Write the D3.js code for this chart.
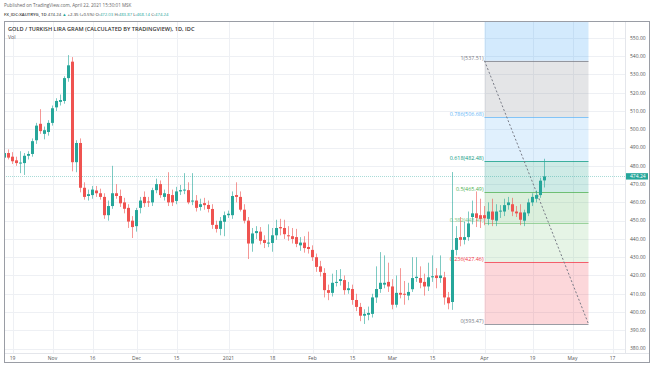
<!DOCTYPE html>
<html><head><meta charset="utf-8">
<script src="https://cdn.jsdelivr.net/npm/d3@7"></script>
<style>
body{margin:0;background:#fff}
svg{display:block}
text{font-family:"Open Sans","Liberation Sans",Arial,sans-serif}
</style>
</head><body><svg id="c" width="654" height="366"></svg>
<script>
// ---- data (daily candles, XAU/TRY gram, from 2020-10-15, weekdays) ----
const firstDate = "2020-10-15";
const lastAxisDate = "2021-05-20";
const opens = [484.5,487,485,483,481.5,481.5,485.5,486.5,494,503,497.5,498.5,503.5,512,515,515.5,528,537,482,492.5,
468,463.5,464,466.5,465,463,453,458,465,463.5,460,457,450,447,457,463,460.5,460,466.7,470,
463,464.6,464,460.8,466,467,466.7,461,461,457.5,459.6,458.6,456.4,447.7,445.5,449.4,453,453,464,463,
456,450,437.5,443.2,444,439.4,437.8,437.8,442,446.5,446,442,441.5,441,436.5,438,435.6,434,430,425,
421.4,412,410.5,416,417,417.5,412,412.6,406.6,402.8,398,398.5,399,408,412.6,415,416.5,414,404,410.5,
410,409,412.5,418.6,418.6,416.5,414,419,420,418.6,419,408,405.5,434,441,439.5,441,452,454,453,
453,451,455,450,455,455,458.5,459,455,454.5,450,454,460,462,464,472.03];
const highs = [488,489,487.5,485,488,487,488,495,503.5,511,501.5,505,513,517,519,529,540.6,539.5,494,495,
471,467,469,469,467.5,465,461,480,470,467,462.5,459,452.5,457,463,466,463,468,473,472,
467,476.5,467,468.5,469.5,476,471,476,464,462,462.5,461,459,450,452,455,455.5,466,471,466,
459,452,446,447,446.5,442,448,446,450.5,451,450.5,447,446,445.5,441,441.5,444,436.5,432,428,
424,415,421,423,423.5,420,416.5,415,410,405,401.5,403,410,425,432.8,431,427,418,420,424,
417,416,430,430,425,421,427,431,424,431,422,411,476.6,447,452,449.5,455,461,466,462,
458,460,462,459,458.5,462,463,462.5,458,459,456,462,465,466.5,473.5,483.87];
const lows = [482,483.5,481,480,476,475,483.5,485,492,497.5,494.5,496.5,502,510,513,514,526,477,476.5,465.5,
461.5,461,462,463,461.5,451,450,456.5,462,457.5,454,446,440.5,444,454,457.5,457.5,458,465,462.5,
461,458,458,459,464,464.5,459,458.5,455,455.5,456,454.5,445.5,443.5,442,441.5,451.5,451,460,455,
448.5,429,433,440,437,435,435.5,433,439.5,442,440,439,437.5,435.5,433.5,432.5,432,428,422,419.5,
408,406.5,408.5,414,414.5,409.5,410,404,400.5,395,393.47,395.5,397,405,410.5,413,411,401.5,402.5,407.5,
404,406.5,411,416.5,413,409,411.5,416.5,413,416,404,401.5,401.2,431,436,437,439,448,446.5,446,
447.5,447.5,447,447,451.5,452.5,456,452.5,452,447.5,447,452.5,458,460,462.5,468.14];
const closes = [487,484.5,482.5,481.5,481.8,485.5,486.5,493.5,502,499,499.5,503.5,511.5,515.5,516,528,535,482,492.5,468,
463,464.5,467,465,463,453,458,465,463.5,459.5,456.5,449.5,446.5,455.8,461,459.6,460,466.7,470,464,
465,460,460,466,466.7,467,460,461,457,459,458.5,456.4,447.7,445.5,449.9,453,453.8,463.5,463,456,
450,437.5,443,444.3,439,437.8,438,442,446,445.8,442.6,441.6,440,437.3,438,435,434.5,430,424.7,422,
412,410.5,416,416.5,418,412,413,406.6,402.8,398,399,399.5,408,412.6,416,416,414,404,410.5,409.5,
409.5,411,418.6,419.3,416,414,419,419.6,418.6,420,408,404.8,434,440.5,439.5,441,448.5,454,451.5,451,
451.3,455,450.5,455,455.5,458.5,460,455,454,450.5,454.5,460,463,464,471.89,474.24];

const priceTicks = [380,390,400,410,420,430,440,450,460,470,480,490,500,510,520,530,540,550];
const timeTickDates = ["2020-10-19","2020-11-02","2020-11-16","2020-12-01","2020-12-15","2021-01-01","2021-01-18",
  "2021-02-01","2021-02-15","2021-03-01","2021-03-15","2021-04-01","2021-04-19","2021-05-03","2021-05-17"];
const timeTickLabels = ["19","Nov","16","Dec","15","2021","18","Feb","15","Mar","15","Apr","19","May","17"];

// Fibonacci retracement drawing
const fibLevels = [0,0.236,0.382,0.5,0.618,0.786,1,1.618];
const fibPrices = [393.47,427.46,448.49,465.49,482.48,506.68,537.51,626.53];
const fibColors = ["#787b86","#f23645","#81c784","#4caf50","#089981","#64b5f6","#787b86","#2196f3"];
const fibStartDate = "2021-04-01";
const fibEndDate = "2021-05-07";

const lastPrice = 474.24;
const headerOHLC = [["O:",472.03],["H:",483.87],["L:",468.14],["C:",474.24]];
const headerChange = "+2.35 (+0.5%)";

// ---- layout ----
const W = 654, H = 366;
const plot = {left:4, right:625, top:21, bottom:353};
const up = "#26a69a", down = "#ef5350";

const parse = d3.timeParse("%Y-%m-%d"), fmt = d3.timeFormat("%Y-%m-%d");
const allDays = d3.timeDay.range(parse(firstDate), d3.timeDay.offset(parse(lastAxisDate),1))
  .filter(d => d.getDay() !== 0 && d.getDay() !== 6).map(fmt);
const candles = opens.map((o,i)=>({date:allDays[i],o,h:highs[i],l:lows[i],c:closes[i]}));

const x = d3.scaleBand().domain(allDays).range([2.5, 2.5 + allDays.length*4]).paddingInner(0.25).paddingOuter(0.125);
const bw = x.bandwidth();
const xc = d => x(d) + bw/2;
const y = d3.scaleLinear().domain([380,550]).range([348.6,37.9]);

const svg = d3.select("#c");
svg.append("rect").attr("width",W).attr("height",H).attr("fill","#fff");
svg.append("defs").append("clipPath").attr("id","clip").append("rect")
  .attr("x",plot.left).attr("y",plot.top).attr("width",plot.right-plot.left).attr("height",plot.bottom-plot.top);

// grid
const grid = svg.append("g").attr("clip-path","url(#clip)");
grid.selectAll("line.h").data(priceTicks).join("line")
  .attr("x1",plot.left).attr("x2",plot.right)
  .attr("y1",d=>Math.round(y(d))+0.5).attr("y2",d=>Math.round(y(d))+0.5)
  .attr("stroke","#eef0f4");
grid.selectAll("line.v").data(timeTickDates).join("line")
  .attr("x1",d=>Math.round(xc(d))+0.5).attr("x2",d=>Math.round(xc(d))+0.5)
  .attr("y1",plot.top).attr("y2",plot.bottom).attr("stroke","#eef0f4");

// fib drawing
const fib = svg.append("g").attr("clip-path","url(#clip)");
const fx1 = xc(fibStartDate), fx2 = xc(fibEndDate);
for (let i=0;i<fibLevels.length-1;i++){
  const yA = y(fibPrices[i+1]), yB = y(fibPrices[i]);
  fib.append("rect").attr("x",fx1).attr("width",fx2-fx1)
    .attr("y",yA).attr("height",yB-yA).attr("fill",fibColors[i+1]).attr("fill-opacity",0.2);
}
fibLevels.forEach((lv,i)=>{
  const yy = Math.round(y(fibPrices[i]))+0.5;
  if (yy < plot.top) return;
  fib.append("line").attr("x1",fx1).attr("x2",fx2).attr("y1",yy).attr("y2",yy)
    .attr("stroke",fibColors[i]).attr("stroke-opacity",0.75).attr("stroke-width",1);
  fib.append("text").attr("x",fx1-1).attr("y",yy-1.6).attr("text-anchor","end")
    .attr("font-size",5.4).attr("fill",fibColors[i])
    .text(`${lv}(${fibPrices[i].toFixed(2)})`);
});
fib.append("line").attr("x1",fx1).attr("y1",y(fibPrices[6])).attr("x2",fx2).attr("y2",y(fibPrices[0]))
  .attr("stroke","#787b86").attr("stroke-width",1).attr("stroke-dasharray","2,2");

// last price line
svg.append("line").attr("clip-path","url(#clip)")
  .attr("x1",plot.left).attr("x2",plot.right)
  .attr("y1",Math.round(y(lastPrice))+0.5).attr("y2",Math.round(y(lastPrice))+0.5)
  .attr("stroke",up).attr("stroke-opacity",0.4).attr("stroke-dasharray","1,1");

// candles
const cg = svg.append("g").attr("clip-path","url(#clip)");
const cs = cg.selectAll("g").data(candles).join("g");
cs.append("line")
  .attr("x1",d=>x(d.date)+1.5).attr("x2",d=>x(d.date)+1.5)
  .attr("y1",d=>y(d.h)).attr("y2",d=>y(d.l))
  .attr("stroke",d=>d.c>=d.o?up:down).attr("stroke-opacity",0.6);
cs.append("rect")
  .attr("x",d=>x(d.date)).attr("width",bw)
  .attr("y",d=>y(Math.max(d.o,d.c)))
  .attr("height",d=>Math.max(1,Math.abs(y(d.o)-y(d.c))))
  .attr("fill",d=>d.c>=d.o?up:down);

// axes
svg.append("line").attr("x1",plot.right+0.5).attr("x2",plot.right+0.5).attr("y1",plot.top).attr("y2",plot.bottom)
  .attr("stroke","#e4e6eb");
svg.append("line").attr("x1",plot.left).attr("x2",650).attr("y1",plot.bottom+0.5).attr("y2",plot.bottom+0.5)
  .attr("stroke","#e4e6eb");
svg.append("g").selectAll("text").data(priceTicks).join("text")
  .attr("x",630).attr("y",d=>y(d)+1.8).attr("font-size",5).attr("fill","#555")
  .text(d=>d3.format(".2f")(d));
svg.append("g").selectAll("text").data(timeTickDates).join("text")
  .attr("x",d=>xc(d)).attr("y",360).attr("text-anchor","middle").attr("font-size",5).attr("fill","#555")
  .text((d,i)=>timeTickLabels[i]);

// last price label
const ly = y(lastPrice);
svg.append("rect").attr("x",626).attr("y",ly-3.2).attr("width",22).attr("height",6.4).attr("fill",up);
svg.append("text").attr("x",630).attr("y",ly+1.8).attr("font-size",5).attr("fill","#fff").text(lastPrice.toFixed(2));

// frame
svg.append("rect").attr("x",4.5).attr("y",21.5).attr("width",645).attr("height",341)
  .attr("fill","none").attr("stroke","#9a9da5");

// header texts
svg.append("text").attr("x",4).attr("y",6.8).attr("font-size",4.6).attr("fill","#666")
  .text("Published on TradingView.com, April 22, 2021 15:30:01 MSK");
const h2 = svg.append("text").attr("x",4).attr("y",16.2).attr("font-size",4.3).attr("fill","#333");
h2.append("tspan").attr("font-weight",600).text("FX_IDC:XAUTRYG, 1D ");
h2.append("tspan").text(lastPrice.toFixed(2)+" ");
h2.append("tspan").attr("fill",up).text("▲ ");
h2.append("tspan").text(headerChange+" ");
headerOHLC.forEach(([k,v],i)=>{
  h2.append("tspan").text(k);
  h2.append("tspan").attr("fill",up).text(v.toFixed(2)+(i<3?" ":""));
});
svg.append("text").attr("x",8).attr("y",31).attr("font-size",5.6).attr("font-weight",600).attr("fill","#333")
  .text("GOLD / TURKISH LIRA GRAM (CALCULATED BY TRADINGVIEW), 1D, IDC");
svg.append("text").attr("x",8).attr("y",39).attr("font-size",5.2).attr("fill","#555").text("Vol");
</script></body></html>
